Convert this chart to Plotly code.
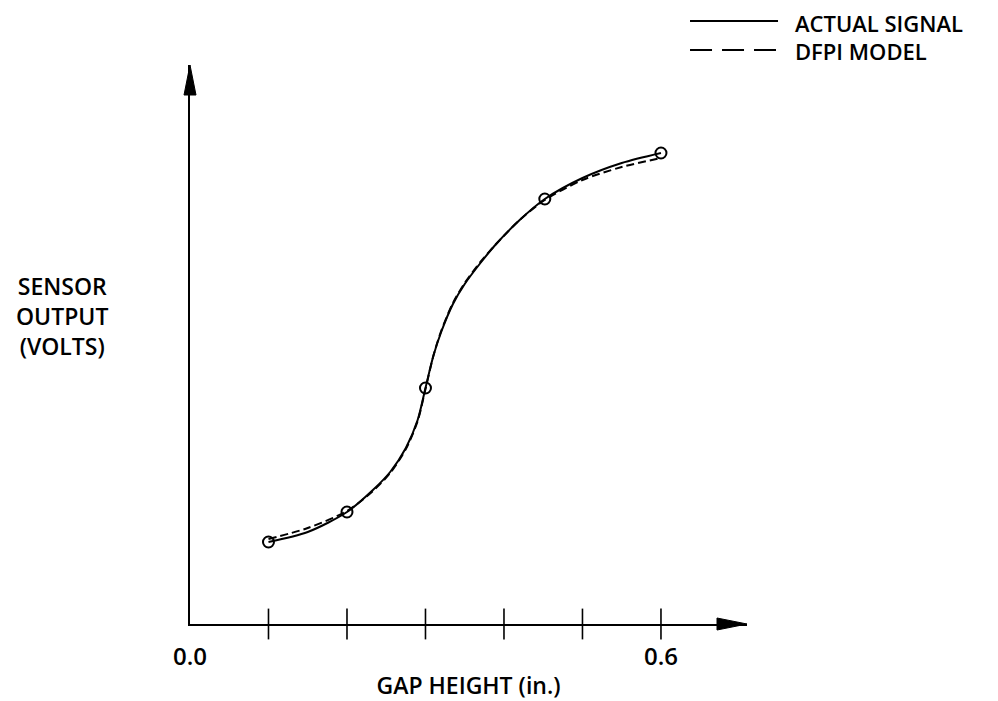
import plotly.graph_objects as go

# ---- data (gap height in inches, sensor output in volts, arbitrary scale) ----
actual_x = [0.100, 0.150, 0.200, 0.233, 0.255, 0.275, 0.290, 0.300, 0.310, 0.320,
            0.335, 0.350, 0.370, 0.390, 0.420, 0.452, 0.500, 0.550, 0.600]
actual_y = [0.82, 0.92, 1.12, 1.34, 1.52, 1.76, 2.04, 2.36, 2.68, 2.92,
            3.20, 3.40, 3.61, 3.80, 4.04, 4.25, 4.46, 4.61, 4.71]

model_x = [0.100, 0.150, 0.200, 0.233, 0.255, 0.275, 0.290, 0.300, 0.310, 0.320,
           0.335, 0.350, 0.370, 0.390, 0.420, 0.452, 0.500, 0.550, 0.600]
model_y = [0.85, 0.96, 1.13, 1.33, 1.51, 1.75, 2.03, 2.35, 2.68, 2.93,
           3.21, 3.41, 3.62, 3.80, 4.04, 4.24, 4.44, 4.57, 4.66]

sample_x = [0.1, 0.2, 0.3, 0.452, 0.6]
sample_y = [0.82, 1.12, 2.36, 4.25, 4.71]

tick_x = [0.1, 0.2, 0.3, 0.4, 0.5, 0.6]
tick_labels_x = [0.0, 0.6]
tick_text_x = ["0.0", "0.6"]

legend_names = ["ACTUAL SIGNAL", "DFPI MODEL"]

FONT = "Open Sans"
X_END = 0.7096
Y_END = 5.59

fig = go.Figure()

fig.add_trace(go.Scatter(x=model_x, y=model_y, mode="lines",
                         line=dict(color="black", width=2, dash="8px,4px", shape="spline", smoothing=0.8),
                         showlegend=False, hoverinfo="skip"))
fig.add_trace(go.Scatter(x=actual_x, y=actual_y, mode="lines",
                         line=dict(color="black", width=2, shape="spline", smoothing=0.8),
                         showlegend=False, hoverinfo="skip"))
fig.add_trace(go.Scatter(x=sample_x, y=sample_y, mode="markers",
                         marker=dict(symbol="circle-open", size=11, color="black", line=dict(width=2)),
                         showlegend=False, hoverinfo="skip", cliponaxis=False))
# tick marks crossing the x axis
fig.add_trace(go.Scatter(x=tick_x, y=[0] * len(tick_x), mode="markers",
                         marker=dict(symbol="line-ns", size=22, color="black", line=dict(width=1.6, color="black")),
                         showlegend=False, hoverinfo="skip", cliponaxis=False))

shapes = [
    # arrowheads at the axis ends
    dict(type="path", xref="paper", yref="paper", xsizemode="pixel", ysizemode="pixel",
         xanchor=1, yanchor=0, path="M0,0 L-30,-6 L-30,6 Z",
         fillcolor="black", line=dict(color="black", width=1)),
    dict(type="path", xref="paper", yref="paper", xsizemode="pixel", ysizemode="pixel",
         xanchor=0, yanchor=1, path="M0,0 L-6,-30 L6,-30 Z",
         fillcolor="black", line=dict(color="black", width=1)),
    # legend samples
    dict(type="line", xref="paper", yref="paper", x0=0.8977, x1=1.0557, y0=1.0787, y1=1.0787,
         line=dict(color="black", width=2)),
    dict(type="line", xref="paper", yref="paper", x0=0.8977, x1=1.0557, y0=1.0268, y1=1.0268,
         line=dict(color="black", width=2, dash="22px,10px")),
]

annotations = [
    dict(xref="paper", yref="paper", x=1.0826, y=1.0751, xanchor="left", yanchor="middle",
         text=legend_names[0], showarrow=False, font=dict(family=FONT, size=22, color="black", weight=600)),
    dict(xref="paper", yref="paper", x=1.0826, y=1.0250, xanchor="left", yanchor="middle",
         text=legend_names[1], showarrow=False, font=dict(family=FONT, size=22, color="black", weight=600)),
    dict(xref="paper", yref="paper", x=-0.2298, y=0.551, xanchor="center", yanchor="middle",
         text="SENSOR<br>OUTPUT<br>(VOLTS)", align="center", showarrow=False,
         font=dict(family=FONT, size=23, color="black", weight=600)),
]

fig.update_layout(
    width=998, height=701,
    margin=dict(l=182, r=259, t=57, b=85, pad=0, autoexpand=False),
    paper_bgcolor="white", plot_bgcolor="white",
    shapes=shapes, annotations=annotations,
    font=dict(family=FONT, size=24, color="black"),
    xaxis=dict(range=[0, X_END], showgrid=False, zeroline=False,
               showline=True, linecolor="black", linewidth=2,
               tickvals=tick_labels_x, ticktext=tick_text_x, ticks="",
               ticklabelstandoff=10,
               tickfont=dict(family=FONT, size=24, color="black", weight=600),
               title=dict(text="GAP HEIGHT (in.)", standoff=7,
                          font=dict(family=FONT, size=23, color="black", weight=600))),
    yaxis=dict(range=[0, Y_END], showgrid=False, zeroline=False,
               showline=True, linecolor="black", linewidth=2,
               showticklabels=False, ticks=""),
    showlegend=False,
)

fig.write_html("out.html")
